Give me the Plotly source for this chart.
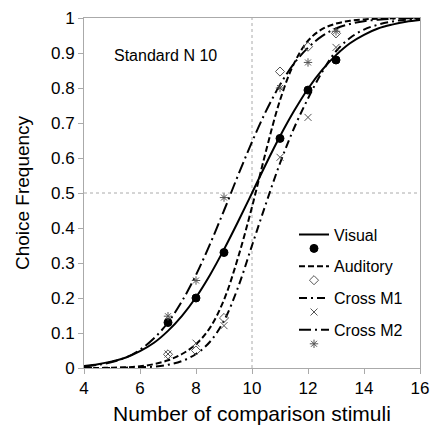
import plotly.graph_objects as go

# ---------------- data ----------------
stim_x = [7, 8, 9, 11, 12, 13]
visual_obs = [0.13, 0.20, 0.33, 0.656, 0.794, 0.88]
auditory_obs = [0.039, 0.05, 0.143, 0.847, 0.918, 0.956]
cross_m1_obs = [0.04, 0.071, 0.121, 0.602, 0.716, 0.916]
cross_m2_obs = [0.148, 0.25, 0.487, 0.80, 0.873, 0.962]

curve_x = [4, 4.5, 5, 5.5, 6, 6.5, 7, 7.5, 8, 8.5, 9, 9.5, 10,
           10.5, 11, 11.5, 12, 12.5, 13, 13.5, 14, 14.5, 15, 15.5, 16]
visual_fit = [0.006, 0.011, 0.019, 0.030, 0.048, 0.072, 0.106, 0.149, 0.202,
              0.266, 0.339, 0.418, 0.5, 0.583, 0.662, 0.734, 0.798, 0.851,
              0.894, 0.928, 0.952, 0.970, 0.981, 0.989, 0.994]
auditory_fit = [0.0, 0.0, 0.001, 0.002, 0.005, 0.011, 0.022, 0.04, 0.068,
                0.115, 0.195, 0.315, 0.46, 0.62, 0.765, 0.87, 0.935, 0.968,
                0.984, 0.992, 0.996, 0.998, 0.999, 1.0, 1.0]
cross_m1_fit = [0.0, 0.0, 0.0, 0.001, 0.002, 0.004, 0.009, 0.02, 0.04,
                0.075, 0.135, 0.23, 0.35, 0.47, 0.585, 0.685, 0.77, 0.845,
                0.905, 0.943, 0.967, 0.981, 0.99, 0.995, 0.998]
cross_m2_fit = [0.004, 0.009, 0.017, 0.030, 0.052, 0.085, 0.130, 0.191, 0.266,
                0.354, 0.450, 0.550, 0.646, 0.734, 0.809, 0.870, 0.915, 0.948,
                0.970, 0.983, 0.991, 0.995, 0.998, 0.999, 1.0]

series_names = ["Visual", "Auditory", "Cross M1", "Cross M2"]
x_ticks = [4, 6, 8, 10, 12, 14, 16]
y_ticks = [0, 0.1, 0.2, 0.3, 0.4, 0.5, 0.6, 0.7, 0.8, 0.9, 1]
y_tick_labels = ["0", "0.1", "0.2", "0.3", "0.4", "0.5", "0.6", "0.7", "0.8", "0.9", "1"]
standard_n = 10
half_level = 0.5

# ---------------- styles ----------------
FONT = "Liberation Sans, Arial, Helvetica, sans-serif"
GRAY = "#555555"
dashes = ["solid", "6px,3px", "8px,4px,2px,4px", "12px,4px,2px,4px"]
symbols = ["circle", "diamond-open", "x-thin-open", "asterisk-open"]
msizes = [8, 7, 7, 7]
mcolors = ["black", GRAY, GRAY, GRAY]

fits = [visual_fit, auditory_fit, cross_m1_fit, cross_m2_fit]
obs = [visual_obs, auditory_obs, cross_m1_obs, cross_m2_obs]

fig = go.Figure()
for i, name in enumerate(series_names):
    fig.add_trace(go.Scatter(
        x=curve_x, y=fits[i], mode="lines", name=name,
        line=dict(color="black", width=2, dash=dashes[i], shape="spline", smoothing=1.0),
        legend="legend", legendgroup="l%d" % i, hoverinfo="skip"))
for i, name in enumerate(series_names):
    fig.add_trace(go.Scatter(
        x=stim_x, y=obs[i], mode="markers", name="",
        marker=dict(symbol=symbols[i], size=msizes[i], color=mcolors[i],
                    line=dict(color=mcolors[i], width=1)),
        legend="legend2", legendgroup="m%d" % i))

# dotted reference lines
fig.add_shape(type="line", xref="x", yref="paper", x0=standard_n, x1=standard_n,
              y0=0, y1=1, line=dict(color="#aaaaaa", width=1, dash="dot"), layer="below")
fig.add_shape(type="line", xref="paper", yref="y", x0=0, x1=1,
              y0=half_level, y1=half_level, line=dict(color="#aaaaaa", width=1, dash="dot"), layer="below")

fig.add_annotation(text="Standard N %d" % standard_n, xref="paper", yref="paper",
                   x=0.083, y=0.894, xanchor="left", yanchor="middle", showarrow=False,
                   font=dict(family=FONT, size=16, color="black"))

axis_common = dict(showline=True, linecolor="#aaaaaa", linewidth=1, mirror=True,
                   ticks="outside", ticklen=5, tickcolor="#aaaaaa", showgrid=False,
                   zeroline=False, automargin=False,
                   tickfont=dict(family=FONT, size=17, color="black"))

leg_common = dict(font=dict(family=FONT, size=16, color="black"), bgcolor="rgba(0,0,0,0)",
                  borderwidth=0, traceorder="grouped", tracegroupgap=8,
                  xanchor="left", yanchor="top")

fig.update_layout(
    width=431, height=425,
    margin=dict(l=84, r=11, t=18, b=57),
    plot_bgcolor="white", paper_bgcolor="white",
    font=dict(family=FONT, color="black"),
    xaxis=dict(range=[4, 16], tickvals=x_ticks, ticktext=[str(v) for v in x_ticks],
               ticklabeloverflow="allow",
               title=dict(text="Number of comparison stimuli", font=dict(family=FONT, size=21),
                          standoff=16),
               **axis_common),
    yaxis=dict(range=[0, 1], tickvals=y_ticks, ticktext=y_tick_labels,
               title=dict(text="Choice Frequency", font=dict(family=FONT, size=19), standoff=16),
               **axis_common),
    legend=dict(x=0.625, y=0.43, **leg_common),
    legend2=dict(x=0.625, y=0.39, **leg_common),
)

fig.write_html("out.html", config={"displayModeBar": False},
               post_script="document.body.style.margin='0';document.body.style.overflow='hidden';")
